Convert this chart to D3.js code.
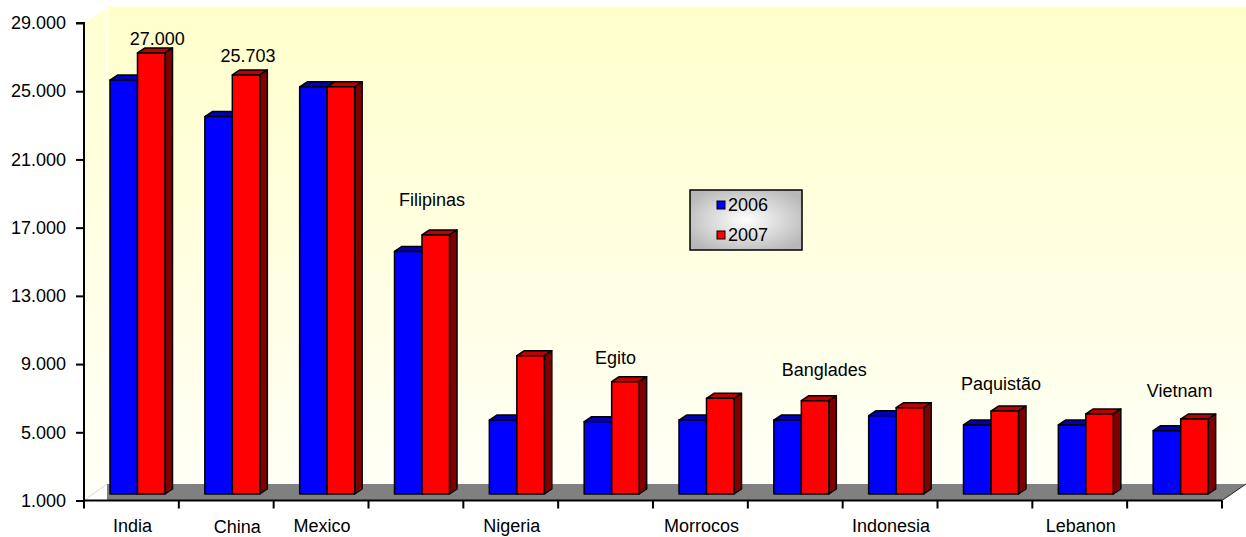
<!DOCTYPE html>
<html>
<head>
<meta charset="utf-8">
<script src="https://cdn.jsdelivr.net/npm/d3@7"></script>
<style>
  html, body { margin: 0; padding: 0; background: #fff; }
  svg text { font-family: "Liberation Sans", Arial, sans-serif; fill: #000; }
</style>
</head>
<body>
<svg id="chart" width="1246" height="537"></svg>
<script>
// ---- data ----
const categories = ["India", "China", "Mexico", "Filipinas", "Nigeria", "Egito", "Morrocos", "Banglades", "Indonesia", "Paquistão", "Lebanon", "Vietnam"];
const seriesNames = ["2006", "2007"];
const values2006 = [25400, 23250, 25000, 15300, 5360, 5260, 5360, 5360, 5620, 5070, 5070, 4730];
const values2007 = [27000, 25703, 25000, 16270, 9150, 7620, 6640, 6500, 6090, 5890, 5720, 5420];
const yTicks = [1000, 5000, 9000, 13000, 17000, 21000, 25000, 29000];
// categories whose name is shown under the axis; the others are shown above their bars
const axisLabelCats = ["India", "China", "Mexico", "Nigeria", "Morrocos", "Indonesia", "Lebanon"];
const floatLabelCats = ["Filipinas", "Egito", "Banglades", "Paquistão", "Vietnam"];
const valueLabelCats = ["India", "China"];

// ---- setup ----
const svg = d3.select("#chart");
const W = 1246, H = 537;
const fontSize = 18;
const colors = {
  "2006": { front: "#0000FF", top: "#0000B8", side: "#000080" },
  "2007": { front: "#FF0000", top: "#C00000", side: "#800000" }
};
const locale = d3.formatLocale({ decimal: ",", thousands: ".", grouping: [3], currency: ["", ""] });
const fmt = locale.format(",.0f");

const pL = 84, pR = 1222, pB = 500.5, pT = 23;
const depthX = 23, depthY = -16.5;  // wall depth
const barDX = 7.5, barDY = -5;      // bar depth

const x = d3.scaleBand().domain(categories).range([pL, pR]).padding(0);
const xSub = d3.scaleBand().domain(seriesNames).range([26, 81]).padding(0);
const y = d3.scaleLinear().domain([1000, 29000]).range([pB, pT]);        // front axis plane
const yBar = d3.scaleLinear().domain([1000, 29000]).range([494, 19]);    // bar plane

const defs = svg.append("defs");
const wallGrad = defs.append("linearGradient").attr("id", "wall").attr("x1", 0).attr("y1", 0).attr("x2", 0).attr("y2", 1);
wallGrad.append("stop").attr("offset", "0%").attr("stop-color", "#FFFFCC");
wallGrad.append("stop").attr("offset", "100%").attr("stop-color", "#FFFFF6");
const sideGrad = defs.append("linearGradient").attr("id", "sidewall").attr("x1", 0).attr("y1", 0).attr("x2", 0).attr("y2", 1);
sideGrad.append("stop").attr("offset", "0%").attr("stop-color", "#FFFFD2");
sideGrad.append("stop").attr("offset", "100%").attr("stop-color", "#FFFFF8");
const legGrad = defs.append("radialGradient").attr("id", "leg").attr("cx", "50%").attr("cy", "50%").attr("r", "60%");
legGrad.append("stop").attr("offset", "0%").attr("stop-color", "#FFFFFF");
legGrad.append("stop").attr("offset", "100%").attr("stop-color", "#B8B8B8");

svg.append("rect").attr("width", W).attr("height", H).attr("fill", "#fff");

// back wall
const wallL = pL + depthX, wallT = pT + depthY, floorY = pB + depthY;
svg.append("rect").attr("x", wallL).attr("y", wallT).attr("width", W - wallL).attr("height", floorY - wallT).attr("fill", "url(#wall)");
// side wall
svg.append("polygon")
  .attr("points", [[pL, pT], [wallL, wallT], [wallL, floorY], [pL, pB]].map(p => p.join(",")).join(" "))
  .attr("fill", "url(#sidewall)");
svg.append("line").attr("x1", pL).attr("y1", pT).attr("x2", wallL).attr("y2", wallT).attr("stroke", "#fff").attr("stroke-width", 1.5);
svg.append("line").attr("x1", wallL).attr("y1", wallT).attr("x2", wallL).attr("y2", floorY).attr("stroke", "#fff").attr("stroke-width", 1.5);

// floor
svg.append("polygon")
  .attr("points", [[wallL, floorY], [pR + depthX + 1, floorY], [pR, pB], [wallL, pB]].map(p => p.join(",")).join(" "))
  .attr("fill", "#808080");
svg.append("line").attr("x1", pL).attr("y1", pB).attr("x2", wallL).attr("y2", floorY).attr("stroke", "#D8D8D8").attr("stroke-width", 1);
svg.append("line").attr("x1", pR).attr("y1", pB).attr("x2", pR + depthX + 1).attr("y2", floorY).attr("stroke", "#222").attr("stroke-width", 1);

// bars
const series = [
  { name: "2006", values: values2006 },
  { name: "2007", values: values2007 }
];
const baseY = yBar(1000);
const gBars = svg.append("g");
categories.forEach((cat, i) => {
  series.forEach(s => {
    const v = s.values[i];
    const x0 = x(cat) + xSub(s.name), w = xSub.bandwidth();
    const yt = yBar(v);
    const c = colors[s.name];
    const g = gBars.append("g").attr("stroke", "#000").attr("stroke-width", 1.5).attr("stroke-linejoin", "round");
    g.append("polygon")
      .attr("points", [[x0, yt], [x0 + barDX, yt + barDY], [x0 + w + barDX, yt + barDY], [x0 + w, yt]].map(p => p.join(",")).join(" "))
      .attr("fill", c.top);
    g.append("polygon")
      .attr("points", [[x0 + w, yt], [x0 + w + barDX, yt + barDY], [x0 + w + barDX, baseY + barDY], [x0 + w, baseY]].map(p => p.join(",")).join(" "))
      .attr("fill", c.side);
    g.append("rect").attr("x", x0).attr("y", yt).attr("width", w).attr("height", baseY - yt).attr("fill", c.front);
  });
});

// y axis
const yAxis = d3.axisLeft(y).tickValues(yTicks).tickSize(8).tickPadding(10).tickFormat(d => fmt(d));
const gy = svg.append("g").attr("transform", `translate(${pL},0)`).call(yAxis);
gy.select(".domain").attr("stroke", "#000").attr("stroke-width", 2).attr("d", `M-8,${y(29000)}H0V${pB}`);
gy.selectAll(".tick line").attr("stroke", "#000").attr("stroke-width", 2);
gy.selectAll(".tick text").attr("font-size", fontSize).attr("font-family", "Liberation Sans, Arial, sans-serif").attr("fill", "#000");

// x axis
const xAxis = d3.axisBottom(x).tickSize(0).tickFormat("");
const gx = svg.append("g").attr("transform", `translate(0,${pB})`).call(xAxis);
gx.select(".domain").attr("stroke", "#000").attr("stroke-width", 2).attr("d", `M${pL},0H${pR}`);
const boundaries = d3.range(categories.length + 1).map(i => pL + i * x.step());
gx.selectAll("line.bnd").data(boundaries).join("line").attr("class", "bnd")
  .attr("x1", d => d).attr("x2", d => d).attr("y1", 0).attr("y2", 8)
  .attr("stroke", "#000").attr("stroke-width", 2);

// category labels under the axis
const labelShift = { "China": [10, 1] };
svg.append("g").selectAll("text").data(axisLabelCats).join("text")
  .attr("x", d => x(d) + x.bandwidth() / 2 + 1 + (labelShift[d] ? labelShift[d][0] : 0))
  .attr("y", d => 532 + (labelShift[d] ? labelShift[d][1] : 0))
  .attr("text-anchor", "middle").attr("font-size", fontSize).text(d => d);

// category labels floating above bars
const floatShift = { "Filipinas": [16, -29], "Egito": [10, -18], "Banglades": [29, -25], "Paquistão": [16, -21], "Vietnam": [5, -22] };
svg.append("g").selectAll("text").data(floatLabelCats).join("text")
  .attr("x", d => x(d) + x.bandwidth() / 2 + floatShift[d][0])
  .attr("y", d => yBar(values2007[categories.indexOf(d)]) + floatShift[d][1])
  .attr("text-anchor", "middle").attr("font-size", fontSize).text(d => d);

// value labels
const valShift = { "India": [6, -8], "China": [2, -13] };
svg.append("g").selectAll("text").data(valueLabelCats).join("text")
  .attr("x", d => x(d) + xSub("2007") + xSub.bandwidth() / 2 + valShift[d][0])
  .attr("y", d => yBar(values2007[categories.indexOf(d)]) + valShift[d][1])
  .attr("text-anchor", "middle").attr("font-size", fontSize)
  .text(d => fmt(values2007[categories.indexOf(d)]));

// legend
const leg = svg.append("g").attr("transform", "translate(690,190)");
leg.append("rect").attr("width", 112).attr("height", 60).attr("fill", "url(#leg)").attr("stroke", "#000").attr("stroke-width", 1.5);
seriesNames.forEach((s, i) => {
  const ly = 15 + i * 30;
  leg.append("rect").attr("x", 27).attr("y", ly - 4).attr("width", 8).attr("height", 8)
    .attr("fill", colors[s].front).attr("stroke", "#000").attr("stroke-width", 1);
  leg.append("text").attr("x", 38).attr("y", ly).attr("dy", "0.36em").attr("font-size", fontSize).text(s);
});
</script>
</body>
</html>
